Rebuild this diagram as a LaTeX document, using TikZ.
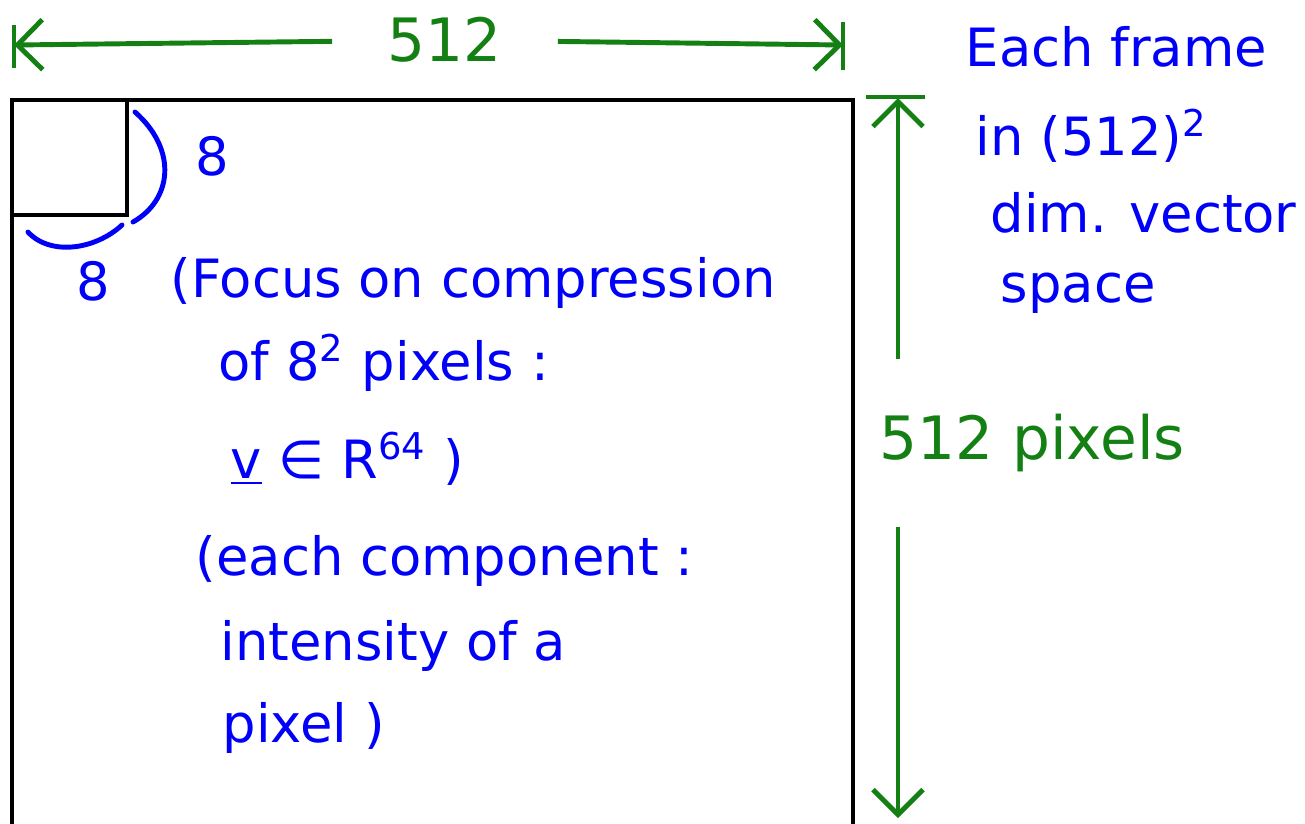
\documentclass[tikz,border=0pt]{standalone}
\usepackage{fontspec}
\setmainfont{DejaVu Sans}
\usetikzlibrary{arrows.meta}
\definecolor{Green}{RGB}{20,128,20}
\definecolor{Pen}{RGB}{0,0,250}
\tikzset{
  hand/.style={font=\fontsize{15}{18}\selectfont,anchor=base west,inner sep=0pt,Pen},
  dim/.style={-{Straight Barb[length=2.5mm,width=5mm]},line width=1.4pt,Green},
  brace/.style={Pen,line width=1.4pt,line cap=round},
}
\begin{document}
\begin{tikzpicture}[x=.01cm,y=-.01cm]
\clip (0,0) rectangle (1305,823);
% the frame and one 8x8 block
\node[draw,line width=1pt,inner sep=0pt,minimum width=8.41cm,minimum height=7.6cm,anchor=north west] (frame) at (10,98) {};
\node[draw,line width=1pt,inner sep=0pt,minimum size=1.15cm,anchor=north west] (blk) at (10,98) {};
\draw[brace] (135,112) .. controls (178,150) and (172,200) .. (133,222);
\draw[brace] (28,232) .. controls (50,256) and (95,250) .. (122,225);
\node[hand] (r8) at (195,175) {8};
\node[hand] (b8) at (76,300) {8};

% width 512
\coordinate (wl) at (14,45);
\coordinate (wr) at (843,45);
\draw[Green,line width=1.4pt] (14,25) -- (14,68) (843,22) -- (843,70);
\node[font=\fontsize{17}{20}\selectfont,Green,inner xsep=.55cm] (w) at (445,40) {512};
\draw[dim] (w) -- (wl);
\draw[dim] (w) -- (wr);

% height 512
\coordinate (ht) at (898,98);
\coordinate (hb) at (898,818);
\draw[Green,line width=1.4pt] (866,97) -- (925,97);
\node[font=\fontsize{17}{20}\selectfont,Green,minimum height=1.67cm,inner sep=0pt] (h) at (1032,443) {512 pixels};
\draw[dim] (h.north -| ht) -- (ht);
\draw[dim] (h.south -| hb) -- (hb);

% notes
\node[hand] (each) at (965,66) {Each frame};
\node[hand] (dim1) at (975,155) {in (512)\textsuperscript{2}};
\node[hand] (dim2) at (990,232) {dim. vector};
\node[hand] (dim3) at (1000,302) {space};

\node[hand] (f1) at (170,297) {(Focus on compression};
\node[hand] (f2) at (218,380) {of 8\textsuperscript{2} pixels :};
\node[hand] (f3) at (230,478) {\underline{v} ∈ R\textsuperscript{64} )};
\node[hand] (f4) at (195,575) {(each component :};
\node[hand] (f5) at (220,660) {intensity of a};
\node[hand] (f6) at (222,742) {pixel )};
\end{tikzpicture}
\end{document}
